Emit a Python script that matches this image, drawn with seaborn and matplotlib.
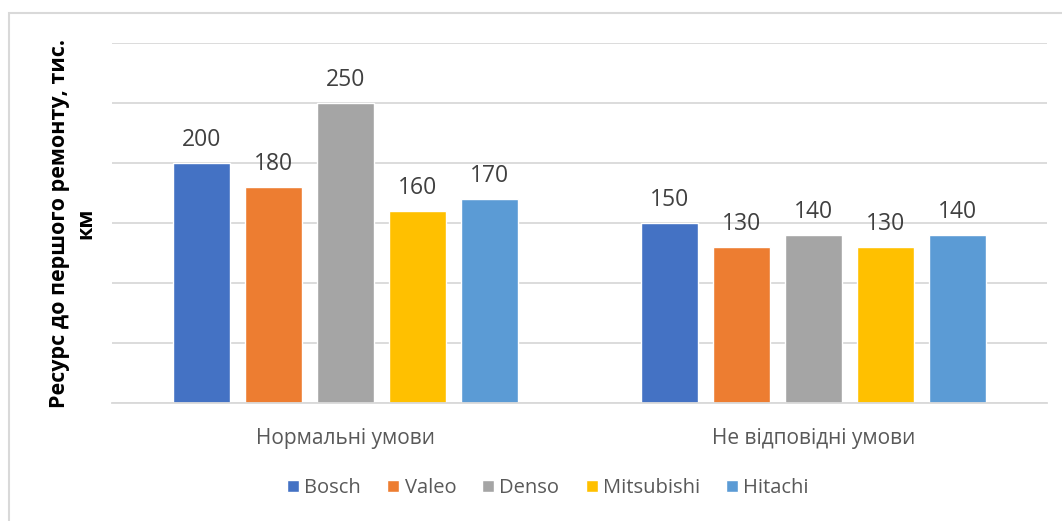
import matplotlib
matplotlib.use("Agg")
import matplotlib.pyplot as plt
import seaborn as sns
import pandas as pd
from matplotlib.patches import Rectangle

categories = ["Нормальні умови", "Не відповідні умови"]
brands = ["Bosch", "Valeo", "Denso", "Mitsubishi", "Hitachi"]
bosch = [200, 150]
valeo = [180, 130]
denso = [250, 140]
mitsubishi = [160, 130]
hitachi = [170, 140]
colors = ["#4472C4", "#ED7D31", "#A5A5A5", "#FFC000", "#5B9BD5"]
ylabel = "Ресурс до першого ремонту, тис.\nкм"

series = [bosch, valeo, denso, mitsubishi, hitachi]
rows = []
for b, vals in zip(brands, series):
    for c, v in zip(categories, vals):
        rows.append({"Умови": c, "Бренд": b, "Ресурс": v})
df = pd.DataFrame(rows)

sns.set_theme(style="white")
plt.rcParams["font.family"] = ["Open Sans", "DejaVu Sans"]

fig = plt.figure(figsize=(10.62, 5.21), dpi=100)
fig.patches.append(Rectangle((9/1062, -0.05), 1.2, (521-13)/521 + 0.05,
                             transform=fig.transFigure, fill=False,
                             edgecolor="#D9D9D9", linewidth=1.5, zorder=0))
ax = fig.add_axes([112/1062, (521-403)/521, 935/1062, 360/521])

sns.barplot(data=df, x="Умови", y="Ресурс", hue="Бренд", order=categories,
            hue_order=brands, palette=colors, width=0.77, gap=0.21,
            saturation=1, ax=ax, legend=True, errorbar=None)

ax.set_ylim(0, 300)
ax.set_xlim(-0.5, 1.5)
ax.set_yticks([0, 50, 100, 150, 200, 250, 300])
ax.set_yticklabels([])
ax.yaxis.grid(True, color="#D9D9D9", linewidth=1.3)
ax.set_axisbelow(True)
for s in ["top", "right", "left"]:
    ax.spines[s].set_visible(False)
ax.spines["bottom"].set_color("#D9D9D9")
ax.spines["bottom"].set_linewidth(1.3)
ax.tick_params(axis="y", length=0)
ax.tick_params(axis="x", length=0, pad=18, labelsize=15, labelcolor="#595959")
ax.set_xlabel("")
ax.set_ylabel(ylabel, fontsize=15.5, fontweight="bold", color="black", labelpad=8,
              linespacing=1.3)

for cont in ax.containers:
    ax.bar_label(cont, padding=8, fontsize=16.5, color="#404040")

handles, labels = ax.get_legend_handles_labels()
ax.legend_.remove()
fig.legend(handles, labels, loc="center", bbox_to_anchor=(548/1062, 1 - 488/521),
           ncol=5, frameon=False, fontsize=14.5, handlelength=0.6, handleheight=0.6,
           handletextpad=0.25, columnspacing=1.3, labelcolor="#595959")

fig.savefig("out.png", dpi=100)
